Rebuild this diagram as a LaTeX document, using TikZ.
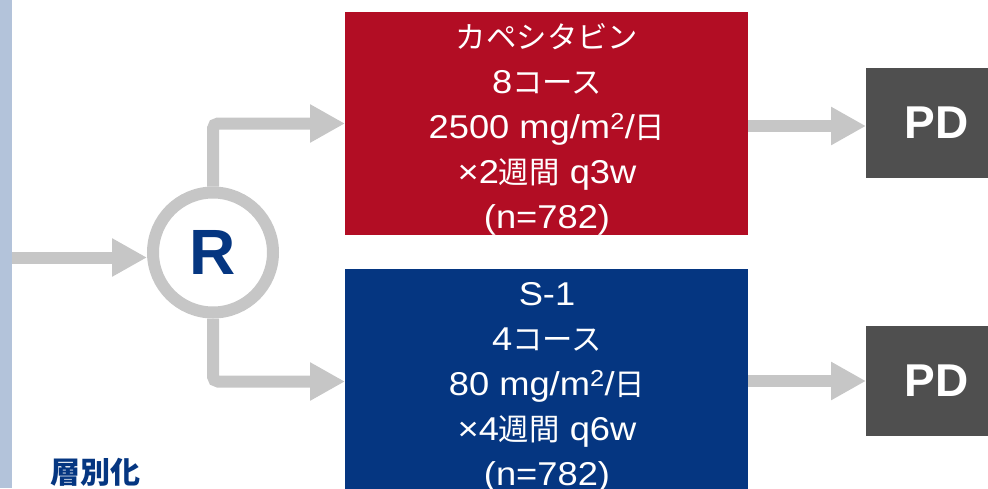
\documentclass[tikz,border=0pt]{standalone}
\usepackage{fontspec}
\setmainfont[FakeStretch=1.1]{Liberation Sans}
\newfontfamily\plainsans{Liberation Sans}
\newfontfamily\jp[Scale=0.92]{Noto Sans CJK JP}
\newfontfamily\jpb{Noto Sans CJK JP}
\usetikzlibrary{arrows.meta}
\definecolor{arrowgray}{HTML}{C6C6C6}
\definecolor{armred}{HTML}{B20D24}
\definecolor{armblue}{HTML}{053681}
\definecolor{pdgray}{HTML}{4F4F4F}
\definecolor{barblue}{HTML}{B3C3DA}
\newcommand{\J}[1]{{\jp #1}}
\begin{document}
\begin{tikzpicture}[x=1pt,y=-1pt,
  conn/.style={draw=arrowgray, line width=12pt, -{Triangle[length=35pt,width=36pt]}},
  armbox/.style={minimum width=403pt, minimum height=223pt, inner sep=0pt, outer sep=0pt},
  armtext/.style={inner sep=0pt, text=white, align=center, font=\fontsize{33}{45}\selectfont},
  pdbox/.style={fill=pdgray, minimum width=141pt, minimum height=110pt, inner sep=0pt, outer sep=0pt, text=white, font=\plainsans\bfseries\fontsize{46}{46}\selectfont}]
\useasboundingbox (0,0) rectangle (988,488);
\node[fill=barblue, minimum width=12pt, minimum height=488pt, inner sep=0pt, outer sep=0pt, anchor=north west] (lbar) at (0,0) {};
\node[armbox, fill=armred] (red) at (546.5,123.5) {};
\node[armtext] (redtxt) at (547,129)
  {\J{カペシタビン}\\8\J{コース}\\2500 mg/m\textsuperscript{2}/\J{日}\\×2\J{週間} q3w\\(n=782)};
\node[armbox, fill=armblue, minimum height=228pt] (blue) at (546.5,383) {};
\node[armtext] (bluetxt) at (547,387)
  {S-1\\4\J{コース}\\80 mg/m\textsuperscript{2}/\J{日}\\×4\J{週間} q6w\\(n=782)};
\node[pdbox] (pd1) at (936.5,123) {PD};
\node[pdbox] (pd2) at (936.5,381) {PD};
\node[circle, draw=arrowgray, fill=white, line width=12pt, minimum size=120pt, inner sep=0pt, text=armblue, font=\plainsans\bfseries\fontsize{64}{64}\selectfont] (R) at (213,252.5) {R};
\node[font=\jpb\bfseries\fontsize{30}{30}\selectfont, text=armblue] (strat) at (95,472) {層別化};
\coordinate (r1) at ([yshift=-2.5pt]red.east);
\coordinate (b1) at ([yshift=2pt]blue.east);
\coordinate (bw) at ([yshift=1.5pt]blue.west);
\draw[conn] (lbar.east |- 0,257.5) -- (R.west |- 0,257.5);
\draw[conn, rounded corners=5pt] (R.north) |- (red.west);
\draw[conn, rounded corners=5pt] (R.south) |- (bw);
\draw[conn] (r1) -- (r1 -| pd1.west);
\draw[conn] (b1) -- (b1 -| pd2.west);
\end{tikzpicture}
\end{document}
